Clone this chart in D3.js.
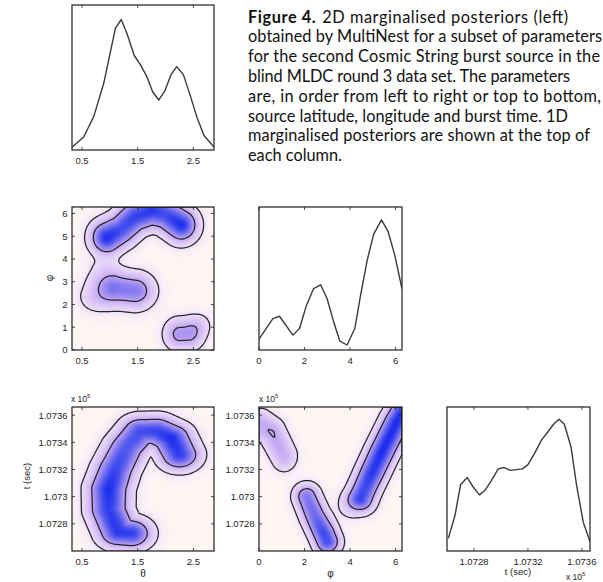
<!DOCTYPE html>
<html>
<head>
<meta charset="utf-8">
<script src="https://cdn.jsdelivr.net/npm/d3@7"></script>
<style>
  html, body { margin: 0; padding: 0; background: #fff; }
  svg { display: block; }
</style>
</head>
<body>
<svg id="fig" width="603" height="582"></svg>
<script>
// ---------------- data ----------------
// axis ticks
const thetaTicks = [0.5, 1.5, 2.5];
const phiTicksY = [0, 1, 2, 3, 4, 5, 6];
const phiTicksX = [0, 2, 4, 6];
const timeTicksY = [107280, 107300, 107320, 107340, 107360];
const timeTicksX = [107280, 107320, 107360];

// axis limits
const thetaLimits = [0.32, 2.87];
const phiLimits = [0, 2 * Math.PI];
const timeLimits = [107260, 107366];

// 1D marginalised posteriors: [parameter value, relative probability]
const thetaMarginal = [
  [0.32, 0.02], [0.53, 0.09], [0.71, 0.23], [0.89, 0.46], [1.10, 0.84],
  [1.205, 0.90], [1.31, 0.80], [1.44, 0.65], [1.545, 0.59], [1.66, 0.51],
  [1.77, 0.40], [1.88, 0.345], [1.99, 0.41], [2.10, 0.52], [2.20, 0.575],
  [2.32, 0.52], [2.44, 0.38], [2.56, 0.23], [2.69, 0.10], [2.87, 0.02]
];
const phiMarginal = [
  [0.0, 0.076], [0.61, 0.22], [0.90, 0.236], [1.49, 0.104], [1.78, 0.15],
  [2.08, 0.31], [2.40, 0.43], [2.71, 0.456], [2.99, 0.36], [3.28, 0.197],
  [3.55, 0.0625], [3.87, 0.035], [4.21, 0.15], [4.46, 0.38], [4.75, 0.625],
  [5.04, 0.81], [5.38, 0.91], [5.67, 0.83], [5.97, 0.66], [6.28, 0.43]
];
const timeMarginal = [
  [107261, 0.088], [107266, 0.25], [107270, 0.46], [107275, 0.51], [107279, 0.45],
  [107284, 0.39], [107288, 0.42], [107293, 0.49], [107298, 0.57], [107302, 0.58],
  [107307, 0.56], [107316, 0.57], [107320, 0.60], [107325, 0.68], [107330, 0.77],
  [107335, 0.83], [107339, 0.88], [107343, 0.915], [107347, 0.88], [107352, 0.72],
  [107356, 0.46], [107361, 0.20], [107366, 0.065]
];

// 2D posterior ridges: [spread x, spread y, [[x, y, relative density], ...]]
const thetaPhiRidges = [
  [0.17, 0.43, [[0.95, 4.95, 1.00], [1.20, 5.30, 0.85], [1.45, 5.85, 0.90],
                [1.75, 6.12, 0.95], [2.00, 5.95, 0.85], [2.28, 5.50, 1.00]]],
  [0.20, 0.45, [[1.10, 2.70, 0.60], [1.45, 2.60, 0.60]]],
  [0.18, 0.40, [[0.75, 2.35, 0.18], [0.90, 3.40, 0.12]]],
  [0.155, 0.40, [[2.25, 0.70, 0.45], [2.42, 0.72, 0.45]]],
  [0.12, 0.30, [[2.62, 1.10, 0.12]]]
];
const thetaTimeRidges = [
  [0.21, 6.5, [[1.38, 107273, 0.92], [1.15, 107274, 0.95], [0.98, 107290, 0.92],
               [0.98, 107306, 1.00], [1.10, 107320, 0.88], [1.30, 107336, 0.80],
               [1.55, 107348, 0.85], [1.85, 107348, 0.90], [2.10, 107343, 1.00],
               [2.25, 107331, 0.92]]]
];
const phiTimeRidges = [
  [0.36, 5.5, [[4.45, 107299, 0.80], [4.95, 107317, 0.95], [5.40, 107333, 1.00],
               [6.05, 107355, 1.00], [6.50, 107368, 0.95]]],
  [0.38, 6.0, [[4.05, 107293, 0.13], [4.45, 107295, 0.13]]],
  [0.33, 5.5, [[2.10, 107300, 0.62], [2.45, 107286, 0.70], [2.85, 107273, 0.88],
               [3.00, 107267, 0.85]]],
  [0.33, 6.5, [[0.10, 107353, 0.33], [0.58, 107347, 0.362], [1.10, 107330, 0.30]]]
];

// credible-region contour levels (fraction of peak density)
const contourLevels = [0.06, 0.35];

const captionHead = ["Figure 4.", "2D marginalised posteriors (left)"];
const captionLines = [
  "obtained by MultiNest for a subset of parameters",
  "for the second Cosmic String burst source in the",
  "blind MLDC round 3 data set. The parameters",
  "are, in order from left to right or top to bottom,",
  "source latitude, longitude and burst time. 1D",
  "marginalised posteriors are shown at the top of",
  "each column."
];

// ---------------- layout ----------------
const svg = d3.select("#fig");
const cols = [[72, 214], [259, 402], [447, 590]];
const rows = [[5, 150], [207, 350], [407, 551]];
const tickFont = "'Liberation Sans', Arial, sans-serif";
const ink = "#1e1e1e";

const colour = d3.scaleLinear()
  .domain([0, 0.02, 0.06, 0.2, 0.35, 0.55, 0.8, 1])
  .range(["#fdf5f4", "#f8eef7", "#ecdcf8", "#d9c2f6", "#c1a6f3", "#9384f0", "#5058ee", "#1e2eee"])
  .interpolate(d3.interpolateRgb)
  .clamp(true);

const fmtTime = v => String(+(v / 1e5).toFixed(4));

let clipId = 0;
function clipFor(x0, x1, y0, y1) {
  const id = "clip" + (clipId++);
  svg.append("clipPath").attr("id", id)
    .append("rect").attr("x", x0).attr("y", y0).attr("width", x1 - x0).attr("height", y1 - y0);
  return "url(#" + id + ")";
}

function frame(xr, yr, xs, xTicks, xFmt, ys, yTicks, yFmt, showYLabels) {
  const [x0, x1] = xr, [y0, y1] = yr;
  const g = svg.append("g");
  const tl = 3;
  // x ticks, bottom and top, pointing inward
  xTicks.forEach(t => {
    const x = xs(t);
    g.append("line").attr("x1", x).attr("x2", x).attr("y1", y1).attr("y2", y1 - tl)
      .attr("stroke", ink).attr("stroke-width", 0.8);
    g.append("line").attr("x1", x).attr("x2", x).attr("y1", y0).attr("y2", y0 + tl)
      .attr("stroke", ink).attr("stroke-width", 0.8);
    g.append("text").attr("x", x).attr("y", y1 + 13.5)
      .attr("text-anchor", "middle").attr("font-family", tickFont)
      .attr("font-size", 9.5).attr("fill", ink).text(xFmt(t));
  });
  if (ys) {
    yTicks.forEach(t => {
      const y = ys(t);
      g.append("line").attr("x1", x0).attr("x2", x0 + tl).attr("y1", y).attr("y2", y)
        .attr("stroke", ink).attr("stroke-width", 0.8);
      g.append("line").attr("x1", x1).attr("x2", x1 - tl).attr("y1", y).attr("y2", y)
        .attr("stroke", ink).attr("stroke-width", 0.8);
      if (showYLabels) {
        g.append("text").attr("x", x0 - 4.5).attr("y", y + 3.4)
          .attr("text-anchor", "end").attr("font-family", tickFont)
          .attr("font-size", 9.5).attr("fill", ink).text(yFmt(t));
      }
    });
  }
  g.append("rect").attr("x", x0).attr("y", y0).attr("width", x1 - x0).attr("height", y1 - y0)
    .attr("fill", "none").attr("stroke", ink).attr("stroke-width", 1.2);
}

function marginalPanel(data, domain, xr, yr, xTicks, xFmt) {
  const xs = d3.scaleLinear().domain(domain).range(xr);
  const ys = d3.scaleLinear().domain([0, 1]).range([yr[1], yr[0]]);
  const line = d3.line().x(d => xs(d[0])).y(d => ys(d[1]));
  svg.append("path").datum(data)
    .attr("clip-path", clipFor(xr[0], xr[1], yr[0], yr[1]))
    .attr("d", line).attr("fill", "none")
    .attr("stroke", "#3a3a3a").attr("stroke-width", 1.4).attr("stroke-linejoin", "round");
  frame(xr, yr, xs, xTicks, xFmt, null);
}

// density contributed by one ridge at (xv, yv): strongest segment, Gaussian fall-off across it
function ridgeDensity(ridge, xv, yv) {
  const [sx, sy, pts] = ridge;
  const u = xv / sx, v = yv / sy;
  let best = 0;
  const n = pts.length;
  for (let k = 0; k < Math.max(1, n - 1); k++) {
    const a = pts[k], b = pts[Math.min(k + 1, n - 1)];
    const au = a[0] / sx, av = a[1] / sy, bu = b[0] / sx, bv = b[1] / sy;
    const du = bu - au, dv = bv - av, len2 = du * du + dv * dv;
    let t = len2 > 0 ? ((u - au) * du + (v - av) * dv) / len2 : 0;
    t = Math.max(0, Math.min(1, t));
    const pu = au + t * du - u, pv = av + t * dv - v;
    const w = a[2] + t * (b[2] - a[2]);
    const val = w * Math.exp(-0.5 * (pu * pu + pv * pv));
    if (val > best) best = val;
  }
  return best;
}

function densityPanel(ridges, xDomain, yDomain, xr, yr, xTicks, xFmt, yTicks, yFmt) {
  const xs = d3.scaleLinear().domain(xDomain).range(xr);
  const ys = d3.scaleLinear().domain(yDomain).range([yr[1], yr[0]]);
  const [x0, x1] = xr, [y0, y1] = yr;
  const nx = Math.round(x1 - x0), ny = Math.round(y1 - y0);
  const values = new Float64Array(nx * ny);
  let peak = 0;
  for (let j = 0; j < ny; j++) {
    const yv = ys.invert(y0 + j + 0.5);
    for (let i = 0; i < nx; i++) {
      const xv = xs.invert(x0 + i + 0.5);
      let s = 0;
      for (const r of ridges) s += ridgeDensity(r, xv, yv);
      values[j * nx + i] = s;
      if (s > peak) peak = s;
    }
  }
  for (let k = 0; k < values.length; k++) values[k] /= peak;

  const g = svg.append("g").attr("clip-path", clipFor(x0, x1, y0, y1))
    .append("g").attr("transform", `translate(${x0},${y0})`);
  g.append("rect").attr("width", nx).attr("height", ny).attr("fill", colour(0));
  const step = 0.0125;
  const bands = d3.contours().size([nx, ny]).thresholds(d3.range(0.004, 1, step))(values);
  const path = d3.geoPath();
  g.selectAll("path.band").data(bands).join("path").attr("class", "band")
    .attr("d", path).attr("fill", d => colour(d.value + step / 2));
  const lines = d3.contours().size([nx, ny]).thresholds(contourLevels)(values);
  g.selectAll("path.level").data(lines).join("path").attr("class", "level")
    .attr("d", path).attr("fill", "none")
    .attr("stroke", "#242424").attr("stroke-width", 1.25).attr("stroke-linejoin", "round");

  frame(xr, yr, xs, xTicks, xFmt, ys, yTicks, yFmt, true);
}

// ---------------- panels ----------------
const fmtPlain = d => String(d);

marginalPanel(thetaMarginal, thetaLimits, cols[0], rows[0], thetaTicks, fmtPlain);
densityPanel(thetaPhiRidges, thetaLimits, phiLimits, cols[0], rows[1], thetaTicks, fmtPlain, phiTicksY, fmtPlain);
marginalPanel(phiMarginal, phiLimits, cols[1], rows[1], phiTicksX, fmtPlain);
densityPanel(thetaTimeRidges, thetaLimits, timeLimits, cols[0], rows[2], thetaTicks, fmtPlain, timeTicksY, fmtTime);
densityPanel(phiTimeRidges, phiLimits, timeLimits, cols[1], rows[2], phiTicksX, fmtPlain, timeTicksY, fmtTime);
marginalPanel(timeMarginal, timeLimits, cols[2], rows[2], timeTicksX, fmtTime);

// ---------------- axis labels ----------------
function label(x, y, txt, rotate, size) {
  const t = svg.append("text").attr("font-family", tickFont).attr("font-size", size || 10)
    .attr("fill", ink).attr("text-anchor", "middle").text(txt);
  if (rotate) t.attr("transform", `translate(${x},${y}) rotate(-90)`);
  else t.attr("x", x).attr("y", y);
}
label(143, 577, "θ");
label(330.5, 577, "φ");
label(518, 575, "t (sec)", false, 9.5);
label(53, 278, "φ", true);
label(30, 476, "t (sec)", true, 9.5);

function multiplier(x, y) {
  const t = svg.append("text").attr("x", x).attr("y", y)
    .attr("font-family", tickFont).attr("font-size", 8.5).attr("fill", ink);
  t.append("tspan").text("x 10");
  t.append("tspan").attr("dy", -4).attr("font-size", 6).text("5");
}
multiplier(71, 402);
multiplier(259, 402);
multiplier(566, 579.5);

// ---------------- caption ----------------
const capFont = "Lato, 'Open Sans', sans-serif";
const capX = 248, capY0 = 22.5, capDy = 19.8;
// right-hand end of each typeset caption line
const capLineEnds = [568, 602, 600, 570, 601, 568, 590, null];
const cap = svg.append("g").attr("font-family", capFont).attr("fill", "#111");
const first = cap.append("text").attr("x", capX).attr("y", capY0).attr("font-size", 15);
first.append("tspan").attr("font-weight", "bold").text(captionHead[0]);
first.append("tspan").attr("dx", 6).text(captionHead[1]);
captionLines.forEach((s, i) =>
  cap.append("text").attr("x", capX).attr("y", capY0 + capDy * (i + 1)).attr("font-size", 15).text(s));
// scale the caption so its widest line fills the column, then justify to the typeset line ends
const capNodes = cap.selectAll("text").nodes();
const widest = d3.max(capNodes, n => n.getComputedTextLength());
cap.selectAll("text").attr("font-size", 15 * 351 / widest);
capNodes.forEach((n, i) => {
  if (capLineEnds[i]) {
    d3.select(n).attr("textLength", capLineEnds[i] - capX).attr("lengthAdjust", "spacing");
  }
});
</script>
</body>
</html>
